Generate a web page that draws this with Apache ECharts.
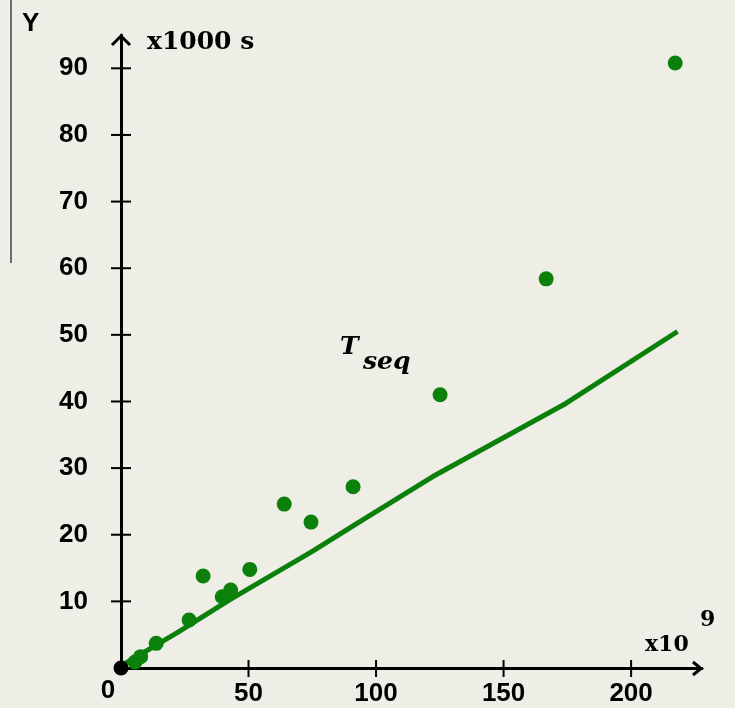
<!DOCTYPE html>
<html>
<head>
<meta charset="utf-8">
<script src="https://cdn.jsdelivr.net/npm/echarts@6/dist/echarts.min.js"></script>
<style>
html,body{margin:0;padding:0;background:#eeede6;}
#chart{width:735px;height:708px;}
</style>
</head>
<body>
<div id="chart"></div>
<script>
// measured points (x in units of 10^9, y in units of 1000 s)
var pointX = [5.5, 7.7, 13.8, 26.7, 32.2, 39.7, 43.0, 50.5, 64.0, 74.5, 91.0, 125.1, 166.7, 217.3];
var pointY = [0.9, 1.7, 3.7, 7.2, 13.8, 10.7, 11.7, 14.8, 24.6, 21.9, 27.2, 41.0, 58.4, 90.8];
// T_seq trend line
var lineX = [0, 22.7, 42.4, 75.0, 94.6, 122.1, 174.4, 218.2];
var lineY = [0.3, 5.45, 10.2, 17.5, 22.2, 28.7, 39.7, 50.5];
// origin marker
var originX = [0];
var originY = [0];
// tick labels
var xTicks = [50, 100, 150, 200];
var yTicks = [10, 20, 30, 40, 50, 60, 70, 80, 90];

function zip(a, b) { return a.map(function (v, i) { return [v, b[i]]; }); }

var XMAX = 227.8, YMAX = 95.0;
var GREEN = '#0b800b';

var chart = echarts.init(document.getElementById('chart'));
var sansBold = {fontFamily: '"Liberation Sans", Arial, sans-serif', fontWeight: 'bold', fontSize: 26, color: '#000'};

chart.setOption({
  backgroundColor: '#eeede6',
  animation: false,
  grid: {left: 121, top: 35, right: 33, bottom: 40, containLabel: false},
  xAxis: {
    type: 'value', min: 0, max: XMAX,
    splitLine: {show: false},
    axisLine: {show: true, onZero: false, lineStyle: {color: '#000', width: 3}},
    axisTick: {show: false},
    axisLabel: Object.assign({show: true, customValues: xTicks, margin: 13}, sansBold)
  },
  yAxis: {
    type: 'value', min: 0, max: YMAX,
    splitLine: {show: false},
    axisLine: {show: true, onZero: false, lineStyle: {color: '#000', width: 3}},
    axisTick: {show: false},
    axisLabel: Object.assign({show: true, customValues: yTicks, margin: 33}, sansBold)
  },
  series: [
    {
      // x-axis tick marks crossing the axis
      type: 'scatter', data: xTicks.map(function (v) { return [v, 0]; }),
      symbol: 'rect', symbolSize: [2, 17], symbolOffset: [0, 0.5], silent: true, clip: false,
      itemStyle: {color: '#000', opacity: 1}, z: 6
    }, {
      // y-axis tick marks crossing the axis
      type: 'scatter', data: yTicks.map(function (v) { return [0, v]; }),
      symbol: 'rect', symbolSize: [20, 2], silent: true, clip: false,
      itemStyle: {color: '#000', opacity: 1}, z: 6
    }, {
      type: 'line', data: zip(lineX, lineY), showSymbol: false, symbol: 'none',
      lineStyle: {color: GREEN, width: 5}, z: 3
    }, {
      type: 'scatter', data: zip(pointX, pointY), symbolSize: 15,
      itemStyle: {color: GREEN, opacity: 1}, z: 4
    }, {
      type: 'scatter', data: zip(originX, originY), symbolSize: 15, clip: false,
      itemStyle: {color: '#000', opacity: 1}, z: 5
    }
  ],
  graphic: [
    {type: 'rect', shape: {x: 10, y: 0, width: 2, height: 263}, style: {fill: '#6e6e6e'}},
    {type: 'polyline', shape: {points: [[112, 45], [121, 36], [130, 45]]}, style: {stroke: '#000', lineWidth: 3, fill: null}},
    {type: 'polyline', shape: {points: [[693, 662], [701, 668.5], [693, 675]]}, style: {stroke: '#000', lineWidth: 3, fill: null}},
    {type: 'text', left: 22, top: 11, style: {text: 'Y', font: 'bold 26px "Liberation Sans", Arial, sans-serif', fill: '#000'}},
    {type: 'text', x: 147, y: 42, style: {text: 'x1000 s', font: 'bold 25px "DejaVu Serif", serif', fill: '#000', verticalAlign: 'middle'}},
    {type: 'text', x: 645, y: 645, style: {text: 'x10', font: 'bold 22px "DejaVu Serif", serif', fill: '#000', verticalAlign: 'middle'}},
    {type: 'text', x: 700, y: 620, style: {text: '9', font: 'bold 22px "DejaVu Serif", serif', fill: '#000', verticalAlign: 'middle'}},
    {type: 'text', x: 108, y: 691, style: {text: '0', font: 'bold 26px "Liberation Sans", Arial, sans-serif', fill: '#000', align: 'center', verticalAlign: 'middle'}},
    {type: 'text', x: 340, y: 347, style: {text: 'T', font: 'italic bold 25px "DejaVu Serif", serif', fill: '#000', verticalAlign: 'middle'}},
    {type: 'text', x: 363, y: 362, style: {text: 'seq', font: 'italic bold 25px "DejaVu Serif", serif', fill: '#000', verticalAlign: 'middle'}}
  ]
});
</script>
</body>
</html>
